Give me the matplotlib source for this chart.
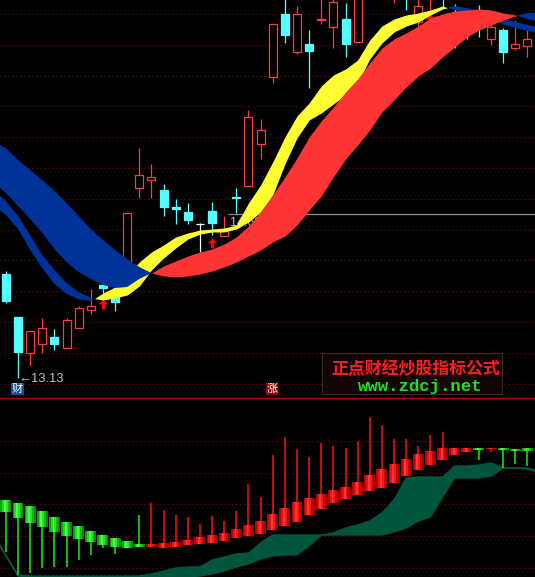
import numpy as np
import matplotlib
matplotlib.use("Agg")
import matplotlib.pyplot as plt
from matplotlib.patches import Rectangle
from matplotlib.lines import Line2D
from matplotlib.path import Path

plt.rcParams["font.family"] = ["DejaVu Sans", "Noto Sans CJK SC"]

# main panel: daily candles
k_open = [14.17, 13.74, 13.38, 13.47, 13.54, 13.43, 13.63, 13.81, 14.06, 13.94,
          13.99, 15.03, 15.11, 15.01, 14.84, 14.79, 14.67, 14.80, 14.55, 14.94,
          15.05, 15.47, 16.14, 16.77, 16.39, 16.47, 16.71, 16.64, 16.72, 16.49,
          17.01, 17.11, 17.01, 17.06, 16.69, 16.96, 17.01, 16.76, 16.71, 16.76,
          16.52, 16.61, 16.43, 16.45]
k_close = [13.90, 13.39, 13.60, 13.63, 13.47, 13.71, 13.83, 13.85, 14.03, 13.89,
           14.78, 15.16, 15.14, 14.84, 14.82, 14.71, 14.67, 14.68, 14.61, 14.93,
           15.74, 15.61, 16.67, 16.56, 16.77, 16.40, 16.72, 16.89, 16.47, 16.96,
           17.21, 17.01, 17.16, 16.96, 16.85, 17.11, 16.94, 16.51, 16.61, 16.63,
           16.64, 16.39, 16.47, 16.52]
k_high = [14.20, 13.74, 13.60, 13.73, 13.62, 13.73, 13.85, 14.02, 14.09, 14.01,
          14.78, 15.43, 15.27, 15.07, 14.92, 14.88, 14.68, 14.89, 14.75, 15.03,
          15.81, 15.72, 16.67, 16.96, 16.85, 16.61, 16.96, 16.96, 16.88, 17.01,
          17.26, 17.21, 17.21, 17.11, 16.96, 17.16, 17.06, 16.87, 16.81, 16.86,
          16.70, 16.63, 16.71, 16.61]
k_low = [13.88, 13.13, 13.25, 13.38, 13.41, 13.43, 13.63, 13.77, 13.98, 13.80,
         13.96, 14.93, 14.93, 14.75, 14.67, 14.67, 14.39, 14.56, 14.55, 14.78,
         15.05, 15.32, 16.08, 16.48, 16.37, 16.03, 16.67, 16.43, 16.34, 16.49,
         16.96, 16.94, 16.88, 16.81, 16.63, 16.77, 16.83, 16.43, 16.52, 16.54,
         16.46, 16.28, 16.41, 16.34]

# ribbon lines, one value per bar starting one bar before the first candle
fast_a = [14.85, 14.76, 14.62, 14.41, 14.23, 14.07, 13.97, 13.92, 13.90, 13.98,
          14.04, 14.15, 14.29, 14.39, 14.46, 14.54, 14.58, 14.61, 14.62, 14.63,
          14.66, 14.88, 15.06, 15.29, 15.54, 15.75, 15.88, 16.05, 16.16, 16.22,
          16.31, 16.51, 16.65, 16.72, 16.76, 16.78, 16.81, 16.85, 16.81, 16.78,
          16.73, 16.70, 16.67, 16.63, 16.60, 16.58]
fast_b = [15.01, 14.90, 14.75, 14.56, 14.36, 14.21, 14.08, 13.99, 13.93, 13.91,
          13.93, 13.96, 14.05, 14.21, 14.33, 14.43, 14.52, 14.57, 14.59, 14.59,
          14.62, 14.69, 14.79, 14.96, 15.27, 15.53, 15.71, 15.78, 15.87, 15.96,
          16.08, 16.32, 16.48, 16.59, 16.65, 16.69, 16.76, 16.82, 16.85, 16.83,
          16.80, 16.77, 16.72, 16.69, 16.66, 16.64]
slow_a = [15.09, 14.98, 14.85, 14.72, 14.58, 14.42, 14.29, 14.19, 14.12, 14.06,
          14.03, 14.04, 14.12, 14.18, 14.25, 14.30, 14.35, 14.39, 14.42, 14.47,
          14.54, 14.65, 14.79, 14.96, 15.14, 15.33, 15.54, 15.70, 15.84, 15.99,
          16.12, 16.28, 16.43, 16.52, 16.58, 16.65, 16.73, 16.77, 16.80, 16.81,
          16.82, 16.81, 16.78, 16.76, 16.72, 16.69]
slow_b = [15.49, 15.43, 15.31, 15.21, 15.11, 15.00, 14.88, 14.75, 14.62, 14.51,
          14.41, 14.32, 14.24, 14.18, 14.15, 14.14, 14.15, 14.17, 14.20, 14.24,
          14.29, 14.35, 14.41, 14.49, 14.55, 14.66, 14.81, 14.95, 15.14, 15.32,
          15.46, 15.61, 15.79, 15.91, 16.04, 16.15, 16.23, 16.34, 16.44, 16.54,
          16.61, 16.66, 16.71, 16.75, 16.78, 16.78]

buy_idx = [8, 17, 35]
buy_price = [13.87, 14.48, 16.72]

low_idx, low_price = 1, 13.13
level_price, level_from = 14.77, 18.3
level_text = "14.68 +4.76"
price_grid = [16.77, 16.46, 16.15, 15.85, 15.54, 15.23, 14.92, 14.61, 14.31,
              14.00, 13.69, 13.38, 13.07]

# lower panel
sub_open = [7.7, 7.4, 7.1, 6.6, 6.0, 5.5, 5.1, 4.6, 4.2, 3.9, 3.6, 3.3, 3.0, 2.9,
            3.0, 3.2, 3.3, 3.4, 3.6, 3.9, 4.1, 4.3, 4.7, 5.1, 5.5, 6.2, 6.8, 7.4,
            7.8, 8.2, 8.6, 8.9, 9.4, 10.1, 10.7, 11.2, 11.7, 12.2, 12.5, 12.9,
            12.8, 12.9, 12.8, 12.9]
sub_close = [6.5, 5.9, 5.4, 5.0, 4.5, 4.1, 3.8, 3.5, 3.2, 3.0, 2.9, 3.0, 3.3, 3.4,
             3.5, 3.7, 4.0, 4.2, 4.4, 4.8, 5.2, 5.6, 6.3, 6.9, 7.5, 7.9, 8.3, 8.7,
             9.0, 9.5, 10.2, 10.8, 11.3, 11.8, 12.3, 12.6, 12.9, 12.9, 12.9, 12.7,
             12.9, 12.7, 12.6, 12.6]
sub_high = [7.7, 7.4, 7.1, 6.6, 6.0, 5.5, 5.1, 4.6, 4.2, 3.9, 3.6, 6.2, 7.4, 6.7,
            6.2, 6.0, 5.3, 6.1, 5.6, 6.6, 9.3, 8.0, 12.2, 14.0, 12.8, 12.0, 13.4,
            13.1, 12.9, 13.6, 16.0, 15.2, 13.8, 13.8, 13.1, 14.2, 14.5, 12.9, 12.9,
            12.9, 12.9, 12.9, 12.8, 12.9]
sub_low = [2.5, 0.2, 0.4, 0.9, 1.0, 1.0, 1.7, 2.2, 2.9, 2.3, 2.9, 3.0, 3.0, 2.9,
           3.0, 3.2, 3.3, 3.4, 3.6, 3.9, 4.1, 4.3, 4.7, 5.1, 5.5, 6.2, 6.8, 7.4,
           7.8, 8.2, 8.6, 8.9, 9.4, 10.1, 10.7, 11.2, 11.7, 12.2, 12.5, 11.7, 12.5,
           10.9, 11.3, 11.1]
zone_top = [4.2, 2.2, 0.2, 0.1, 0.1, 0.1, 0.1, 0.1, 0.1, 0.1, 0.1, 0.1, 0.1, 0.3,
            0.6, 0.9, 1.0, 1.0, 1.7, 2.0, 2.3, 2.4, 3.4, 4.2, 4.2, 4.2, 4.2, 4.2,
            4.4, 4.9, 5.2, 5.6, 6.4, 7.7, 9.9, 10.0, 10.0, 10.0, 11.1, 11.1, 11.2,
            11.4, 10.9, 10.9, 10.9, 10.5]
zone_bot = [4.1, 2.1, 0.1, 0.0, 0.0, 0.0, 0.0, 0.0, 0.0, 0.0, 0.0, 0.0, 0.0, 0.0,
            0.0, 0.0, 0.0, 0.1, 0.3, 0.6, 1.0, 1.3, 1.8, 2.1, 2.2, 2.2, 3.1, 4.2,
            4.2, 4.2, 4.2, 4.2, 4.2, 4.5, 4.9, 5.6, 6.0, 8.0, 9.9, 9.9, 9.9, 10.1,
            10.9, 10.9, 10.8, 10.4]
sub_grid = [13.6, 10.4, 7.3, 4.1, 0.9]

RED = "#ff3c3c"
CYAN = "#54ffff"
YELLOW = "#ffff33"
BAND_RED = "#ff3434"
BLUE = "#003399"
GRID = "#a00000"
TEAL = "#00553f"
green_shades = ["#00a800", "#22d822", "#4cff4c", "#30e030", "#10b810", "#008c00"]
red_shades = ["#c00000", "#e81010", "#ff3838", "#f01818", "#c80000", "#9a0000"]

fig = plt.figure(figsize=(5.35, 5.77), dpi=100, facecolor="black")
ax = fig.add_axes([0, 180 / 577, 1, 397 / 577])
sub = fig.add_axes([0, 0, 1, 179 / 577])
for a in (ax, sub):
    a.set_axis_off()
    a.set_xlim(-0.484, 43.62)
ax.set_ylim(12.94, 16.91)
sub.set_ylim(0, 17.9)

for g in price_grid:
    ax.axhline(g, color=GRID, lw=0.72, ls=(0, (1, 3)), zorder=1)
for g in sub_grid:
    sub.axhline(g, color=GRID, lw=0.72, ls=(0, (1, 3)), zorder=1)

# candles
o, c = np.array(k_open), np.array(k_close)
h, l = np.array(k_high), np.array(k_low)
x = np.arange(len(o))
cols = np.where(c > o, RED, np.where(c < o, CYAN, "white"))
ax.vlines(x, l, h, colors=cols, lw=0.9, zorder=2)
for xi, oi, ci, col in zip(x, o, c, cols):
    lo, hi = min(oi, ci), max(oi, ci)
    face = "black" if ci > oi else col
    ax.add_patch(Rectangle((xi - 0.33, lo), 0.66, hi - lo, facecolor=face,
                           edgecolor=col, lw=0.9, zorder=2.5))

ax.hlines(level_price, level_from, 43.62, color="#909090", lw=0.9, zorder=2)
ax.text(level_from + 0.15, 14.68, level_text, color="#c0c0c0", fontsize=9,
        family=["Liberation Sans", "DejaVu Sans"], ha="left", va="center", zorder=2)
ax.text(low_idx, low_price - 0.01, "\u2190" + f"{low_price:.2f}", color="#c0c0c0",
        fontsize=9.4, family=["Liberation Sans", "DejaVu Sans"], ha="left",
        va="center", zorder=2)

arrow = Path([(0, 1), (1, 0), (0.3, 0), (0.3, -1), (-0.3, -1), (-0.3, 0), (-1, 0), (0, 1)],
             [Path.MOVETO] + [Path.LINETO] * 6 + [Path.CLOSEPOLY])
ax.plot(buy_idx, buy_price, ls="none", marker=arrow, ms=7.2, color="#ff0000",
        mec="none", zorder=2.8)

# ribbons
bx = np.arange(-1, 45)
fa, fb = np.array(fast_a), np.array(fast_b)
sa, sb = np.array(slow_a), np.array(slow_b)
ax.fill_between(bx, fa, fb, where=fa >= fb, interpolate=True, color=YELLOW, lw=0, zorder=3)
ax.fill_between(bx, fa, fb, where=fa <= fb, interpolate=True, color=BLUE, lw=0, zorder=3)
ax.fill_between(bx, sa, sb, where=sa >= sb, interpolate=True, color=BAND_RED, lw=0, zorder=4)
ax.fill_between(bx, sa, sb, where=sa <= sb, interpolate=True, color=BLUE, lw=0, zorder=4)

# lower panel
sub.fill_between(bx, zone_bot, zone_top, color=TEAL, lw=0, zorder=1.5)
sub.plot(bx, zone_top, color=TEAL, lw=1, zorder=1.5)
sub.plot(bx, zone_bot, color=TEAL, lw=1, zorder=1.5)

so, sc = np.array(sub_open), np.array(sub_close)
sh, sl = np.array(sub_high), np.array(sub_low)
sx = np.arange(len(so))
up = sc >= so
sub.vlines(sx, sl, sh, colors=np.where(up, "#ff1010", "#18f018"), lw=1.1, zorder=2)
base = np.minimum(so, sc)
tall = np.maximum(np.abs(sc - so), 0.1)
w = 0.9 / 6
for k in range(6):
    shade = np.where(up, red_shades[k], green_shades[k])
    sub.bar(sx - 0.45 + w * (k + 0.5), tall, width=w, bottom=base, color=shade,
            lw=0, zorder=3)

fig.add_artist(Line2D([0, 1], [1 - 397.5 / 577] * 2, color="#b40000", lw=1))

# tags and watermark
fig.add_artist(Rectangle((11 / 535, 1 - 395 / 577), 13 / 535, 12 / 577,
                         transform=fig.transFigure, facecolor="#1c4a96", lw=0))
fig.text(17.5 / 535, 1 - 389 / 577, "财", color="white", fontsize=8,
         family=["Noto Sans CJK SC"], ha="center", va="center")
fig.add_artist(Rectangle((266 / 535, 1 - 395 / 577), 12 / 535, 12 / 577,
                         transform=fig.transFigure, facecolor="#8c0000", lw=0))
fig.text(272 / 535, 1 - 389 / 577, "涨", color="white", fontsize=8,
         family=["Noto Sans CJK SC"], ha="center", va="center")

fig.add_artist(Rectangle((322 / 535, 1 - 394 / 577), 180 / 535, 41 / 577,
                         transform=fig.transFigure, facecolor="#120606",
                         edgecolor="#3a2a2a", lw=0.8))
fig.text(416 / 535, 1 - 369 / 577, "正点财经炒股指标公式", color="#ff1c1c",
         fontsize=12.2, family=["Noto Sans CJK SC"], weight="bold",
         ha="center", va="center")
fig.text(420.5 / 535, 1 - 386 / 577, "www.zdcj.net", color="#1ee01e",
         fontsize=12.5, family=["Liberation Mono", "DejaVu Sans Mono"],
         weight="bold", ha="center", va="center")

fig.savefig("out.png", dpi=100, facecolor="black")
